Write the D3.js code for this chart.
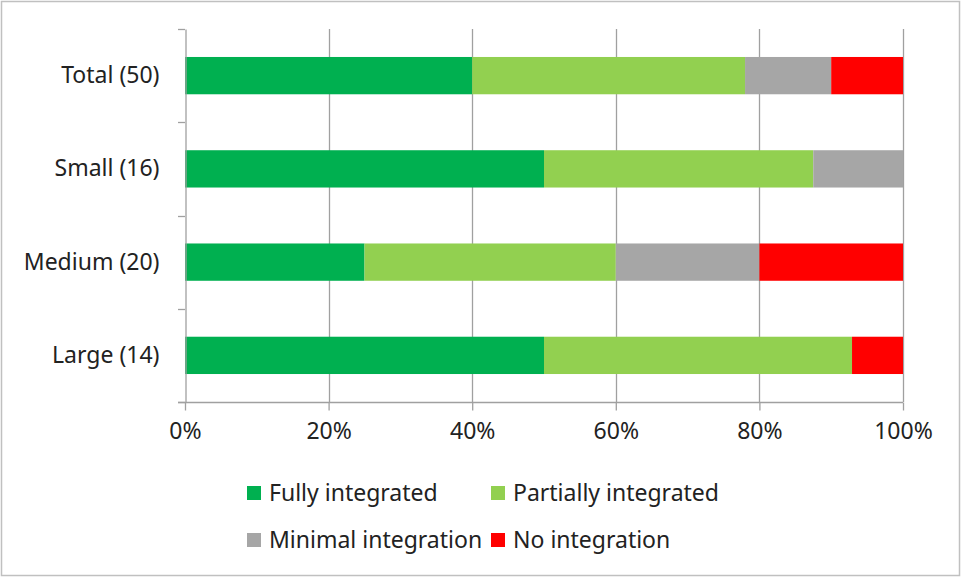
<!DOCTYPE html>
<html>
<head>
<meta charset="utf-8">
<script src="https://cdn.jsdelivr.net/npm/d3@7"></script>
<style>
  html, body { margin: 0; padding: 0; background: #fff; }
  svg { display: block; }
  text { font-family: "Noto Sans", "Open Sans", "Liberation Sans", sans-serif; fill: #222; }
</style>
</head>
<body>
<svg id="chart" width="962" height="578"></svg>
<script>
// Categories (top to bottom) and share of each integration level, in percent
const categories = ["Total (50)", "Small (16)", "Medium (20)", "Large (14)"];
const seriesNames = ["Fully integrated", "Partially integrated", "Minimal integration", "No integration"];
const fully     = [40, 50, 25, 50];
const partially = [38, 37.5, 35, 42.9];
const minimal   = [12, 12.5, 20, 0];
const none      = [10, 0, 20, 7.1];
const seriesColors = ["#00b050", "#92d050", "#a6a6a6", "#ff0000"];
const xTicks = [0, 20, 40, 60, 80, 100];

const rows = categories.map((c, i) => ({
  category: c,
  "Fully integrated": fully[i],
  "Partially integrated": partially[i],
  "Minimal integration": minimal[i],
  "No integration": none[i]
}));

const svg = d3.select("#chart");
const W = 962, H = 578;
const margin = { left: 185, right: 59, top: 29, bottom: 176 };
const FS = "23px";

// Outer chart frame
svg.append("rect")
  .attr("x", 1.5).attr("y", 1.5)
  .attr("width", W - 4).attr("height", H - 4)
  .attr("fill", "#fff").attr("stroke", "#c0c0c0").attr("stroke-width", 1.5);

const x = d3.scaleLinear().domain([0, 100]).range([margin.left, W - margin.right]);
const y = d3.scaleBand().domain(categories).range([margin.top, H - margin.bottom]).paddingInner(0.6).paddingOuter(0.3);
const yb = d3.scaleBand().domain(categories).range([margin.top, H - margin.bottom]);

// Vertical gridlines
svg.append("g")
  .selectAll("line")
  .data(xTicks.slice(1))
  .join("line")
  .attr("x1", d => Math.round(x(d)) + 0.5).attr("x2", d => Math.round(x(d)) + 0.5)
  .attr("y1", margin.top).attr("y2", H - margin.bottom)
  .attr("stroke", "#a0a0a0").attr("stroke-width", 1.3);

// Stacked bars
const stack = d3.stack().keys(seriesNames)(rows);
const color = d3.scaleOrdinal().domain(seriesNames).range(seriesColors);

svg.append("g")
  .selectAll("g")
  .data(stack)
  .join("g")
  .attr("fill", d => color(d.key))
  .selectAll("rect")
  .data(d => d)
  .join("rect")
  .attr("x", d => x(d[0]))
  .attr("width", d => x(d[1]) - x(d[0]))
  .attr("y", d => y(d.data.category))
  .attr("height", y.bandwidth());

// Category axis (left)
const yAxis = d3.axisLeft(yb).tickSize(0).tickPadding(26);
const yg = svg.append("g").attr("transform", `translate(${margin.left + 0.5},0)`).call(yAxis);
yg.select(".domain").attr("stroke", "#a0a0a0").attr("stroke-width", 1.3);
yg.selectAll("text").style("font-size", FS).attr("fill", "#222");
// Category separator ticks
const sepY = categories.map(c => yb(c)).concat([H - margin.bottom]);
svg.append("g")
  .selectAll("line")
  .data(sepY)
  .join("line")
  .attr("x1", margin.left - 7).attr("x2", margin.left)
  .attr("y1", d => Math.round(d) + 0.5).attr("y2", d => Math.round(d) + 0.5)
  .attr("stroke", "#a0a0a0").attr("stroke-width", 1.3);

// Value axis (bottom)
const xAxis = d3.axisBottom(x).tickValues(xTicks).tickFormat(d => d + "%").tickSize(8).tickPadding(12).tickSizeOuter(0);
const xg = svg.append("g").attr("transform", `translate(0,${H - margin.bottom + 0.5})`).call(xAxis);
xg.select(".domain").attr("stroke", "#a0a0a0").attr("stroke-width", 1.3).attr("d", `M${margin.left - 7},0H${W - margin.right}`);
xg.selectAll(".tick line").attr("stroke", "#a0a0a0").attr("stroke-width", 1.3);
xg.selectAll("text").style("font-size", FS).attr("fill", "#222");

// Legend, two rows
const legendPos = [
  { x: 247, y: 493 }, { x: 491, y: 493 },
  { x: 247, y: 540 }, { x: 491, y: 540 }
];
const lg = svg.append("g")
  .selectAll("g")
  .data(seriesNames)
  .join("g")
  .attr("transform", (d, i) => `translate(${legendPos[i].x},${legendPos[i].y})`);
lg.append("rect")
  .attr("x", 0).attr("y", -7).attr("width", 14).attr("height", 14)
  .attr("fill", d => color(d));
lg.append("text")
  .attr("x", 22).attr("y", 0).attr("dy", "0.35em")
  .style("font-size", FS)
  .text(d => d);
</script>
</body>
</html>
